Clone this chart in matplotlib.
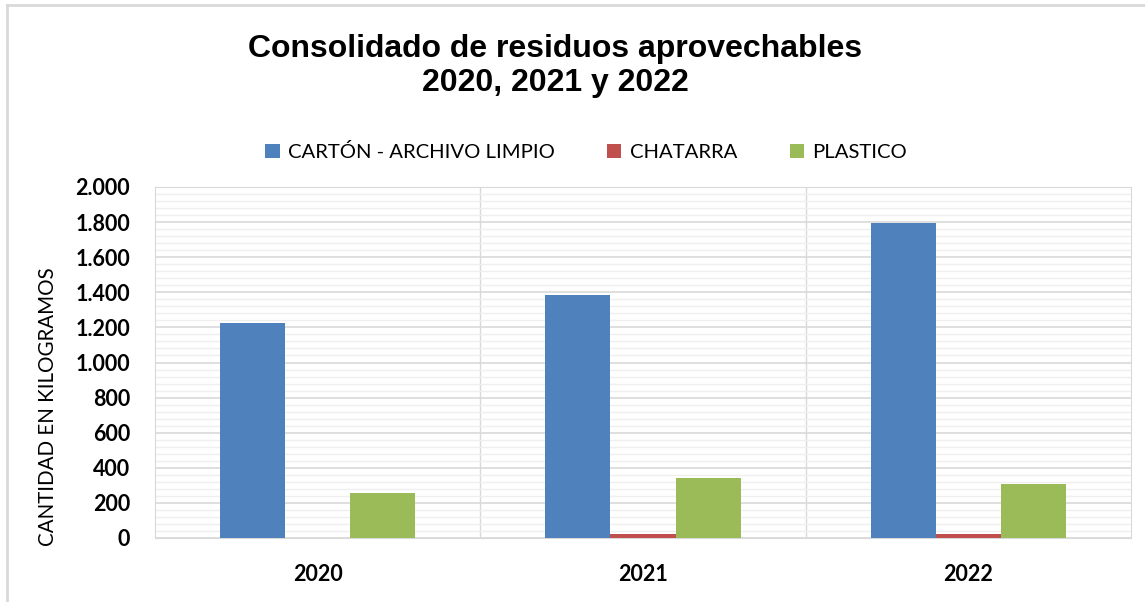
import numpy as np
import matplotlib
matplotlib.use('Agg')
import matplotlib.pyplot as plt
from matplotlib.ticker import MultipleLocator, FuncFormatter

# Datos
anios = ['2020', '2021', '2022']
series = ['CARTÓN - ARCHIVO LIMPIO', 'CHATARRA', 'PLASTICO']
carton = [1225, 1385, 1795]
chatarra = [0, 25, 20]
plastico = [255, 340, 305]
colores = ['#4f81bd', '#c0504d', '#9bbb59']

plt.rcParams['font.family'] = ['Lato', 'DejaVu Sans']

fig = plt.figure(figsize=(11.45, 6.02), dpi=100)
ax = fig.add_axes([155/1145, 1-538/602, (1131-155)/1145, (538-187)/602])

x = np.arange(len(anios))
w = 0.2
for i, (vals, nombre) in enumerate(zip([carton, chatarra, plastico], series)):
    ax.bar(x + (i-1)*w, vals, w, color=colores[i], label=nombre, zorder=3)

ax.set_xlim(-0.5, 2.5)
ax.set_ylim(0, 2000)
ax.yaxis.set_major_locator(MultipleLocator(200))
ax.yaxis.set_minor_locator(MultipleLocator(40))
ax.yaxis.set_major_formatter(FuncFormatter(lambda v, p: f'{int(v):,}'.replace(',', '.')))
ax.grid(axis='y', which='major', color='#d9d9d9', lw=1.2, zorder=0)
ax.grid(axis='y', which='minor', color='#efefef', lw=1.0, zorder=0)
for xv in [0.5, 1.5]:
    ax.axvline(xv, color='#d9d9d9', lw=1, zorder=0)
for s in ax.spines.values():
    s.set_color('#d9d9d9')
ax.tick_params(which='both', length=0)
ax.tick_params(axis='y', pad=18)
ax.tick_params(axis='x', pad=19)
ax.set_xticks(x)
ax.set_xticklabels(anios, fontsize=15.5, fontweight='bold')
for t in ax.get_yticklabels():
    t.set_fontsize(15.5)
    t.set_fontweight('bold')
    t.set_ha('right')

fig.text(48/1145, 1-407/602, 'CANTIDAD EN KILOGRAMOS', rotation=90,
         ha='center', va='center', fontsize=14.8)

fig.text(555/1145, 1-66/602, 'Consolidado de residuos aprovechables\n2020, 2021 y 2022',
         ha='center', va='center', fontsize=23, fontweight='bold',
         family='Liberation Sans', linespacing=1.15)

fig.legend(loc='center', bbox_to_anchor=(586/1145, 1-152/602), ncol=3, frameon=False,
           fontsize=14.6, handlelength=0.7, handleheight=0.7, handletextpad=0.4,
           columnspacing=2.6)

# marco exterior
fig.add_artist(plt.Line2D([7/1145, 7/1145], [0, 1-5/602], color='#d9d9d9', lw=2,
                          transform=fig.transFigure))
fig.add_artist(plt.Line2D([7/1145, 1], [1-5/602, 1-5/602], color='#d9d9d9', lw=2,
                          transform=fig.transFigure))

fig.savefig('out.png', dpi=100)
